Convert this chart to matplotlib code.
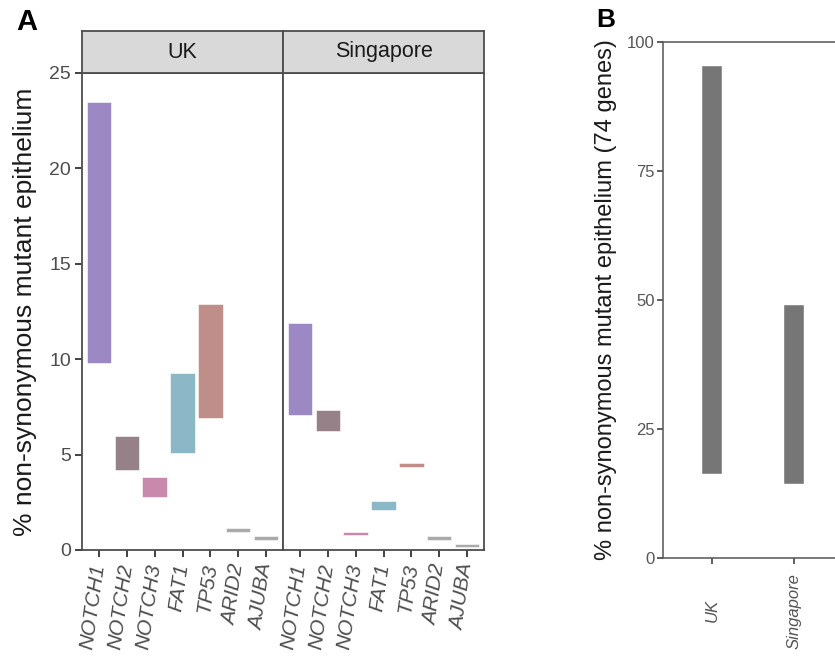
import matplotlib
matplotlib.use("Agg")
import matplotlib.pyplot as plt
from matplotlib.transforms import ScaledTranslation

plt.rcParams['font.family'] = ['Liberation Sans', 'DejaVu Sans']

# Panel A: per-gene range of mutant epithelium (low, high), by cohort
genes = ["NOTCH1", "NOTCH2", "NOTCH3", "FAT1", "TP53", "ARID2", "AJUBA"]
uk_low = [9.8, 4.2, 2.8, 5.1, 6.9, 0.95, 0.55]
uk_high = [23.5, 5.95, 3.85, 9.3, 12.9, 1.15, 0.72]
sg_low = [7.1, 6.25, 0.78, 2.12, 4.35, 0.52, 0.14]
sg_high = [11.9, 7.35, 0.96, 2.55, 4.55, 0.72, 0.32]
gene_colors = ["#9c88c3", "#978189", "#c989ac", "#8cb7c7", "#c08e88", "#aaaaaa", "#aaaaaa"]
facets = ["UK", "Singapore"]
y_ticks_a = [0, 5, 10, 15, 20, 25]

# Panel B: range across all 74 genes
cohorts = ["UK", "Singapore"]
all_low = [16.2, 14.3]
all_high = [95.4, 49.0]
y_ticks_b = [0, 25, 50, 75, 100]

W, H = 835, 657
fig = plt.figure(figsize=(W / 100, H / 100), dpi=100)
fig.patch.set_facecolor("white")

edge = "#4d4d4d"
tick_col = "#4d4d4d"


def fx(px):
    return px / W


def fy(py):
    return 1 - py / H


panel_top, panel_bot = 73, 550
strip_top = 31
lefts = [82, 283]
rights = [283, 484]

shift = ScaledTranslation(10 / 100, 0, fig.dpi_scale_trans)

for i, (name, lo, hi) in enumerate(zip(facets, [uk_low, sg_low], [uk_high, sg_high])):
    l, r = lefts[i], rights[i]
    ax = fig.add_axes([fx(l), fy(panel_bot), fx(r - l), (panel_bot - panel_top) / H])
    xs = list(range(1, len(genes) + 1))
    heights = [h - b for h, b in zip(hi, lo)]
    ax.bar(xs, heights, bottom=lo, width=0.87, color=gene_colors,
           edgecolor="white", linewidth=0.4)
    ax.set_xlim(0.4, len(genes) + 0.6)
    ax.set_ylim(0, 25)
    ax.set_xticks(xs)
    ax.set_xticklabels(genes, rotation=82, ha="right", va="center",
                       rotation_mode="anchor", fontstyle="italic",
                       fontsize=15, color=tick_col)
    for lab in ax.get_xticklabels():
        lab.set_transform(lab.get_transform() + shift)
    for s in ax.spines.values():
        s.set_color(edge)
        s.set_linewidth(1.3)
    ax.tick_params(axis="x", length=5, width=1.3, color="#333333", pad=5)
    if i == 0:
        ax.set_yticks(y_ticks_a)
        ax.set_yticklabels([str(t) for t in y_ticks_a], fontsize=14, color=tick_col)
        ax.tick_params(axis="y", length=5, width=1.3, color="#333333", pad=3)
        ax.set_ylabel("% non-synonymous mutant epithelium", fontsize=19,
                      color="#1a1a1a", labelpad=9)
    else:
        ax.set_yticks([])
    ax.set_facecolor("white")

    # facet strip
    sax = fig.add_axes([fx(l), fy(panel_top), fx(r - l), (panel_top - strip_top) / H])
    sax.set_xticks([])
    sax.set_yticks([])
    sax.set_facecolor("#d9d9d9")
    for s in sax.spines.values():
        s.set_color(edge)
        s.set_linewidth(1.3)
    sax.text(0.5, 0.5, name, ha="center", va="center", fontsize=15.5,
             color="#1a1a1a", transform=sax.transAxes)

# Panel B
bl, br = 663, 843
bt, bb = 42, 558
axb = fig.add_axes([fx(bl), fy(bb), fx(br - bl), (bb - bt) / H])
xb = [1, 2]
axb.bar(xb, [h - l for h, l in zip(all_high, all_low)], bottom=all_low,
        width=0.245, color="#767676", edgecolor="white", linewidth=0.3)
axb.set_xlim(0.4, 2.6)
axb.set_ylim(0, 100)
axb.set_yticks(y_ticks_b)
axb.set_yticklabels([str(t) for t in y_ticks_b], fontsize=12, color="#555555")
axb.set_xticks(xb)
axb.set_xticklabels(cohorts, rotation=90, ha="center", va="center",
                    fontstyle="italic", fontsize=12, color="#555555")
axb.tick_params(axis="y", length=4, width=1.1, color="#333333", pad=2)
axb.tick_params(axis="x", length=4, width=1.1, color="#333333", pad=34)
axb.spines["right"].set_visible(False)
for k in ["left", "bottom", "top"]:
    axb.spines[k].set_color("#555555")
    axb.spines[k].set_linewidth(1.1)
axb.set_ylabel("% non-synonymous mutant epithelium (74 genes)", fontsize=17,
               color="#1a1a1a", labelpad=7)

fig.text(fx(16), fy(22), "A", fontsize=21, fontweight="bold", ha="left", va="center")
fig.text(fx(596), fy(20), "B", fontsize=19, fontweight="bold", ha="left", va="center")

fig.savefig("out.png", dpi=100, facecolor="white")
